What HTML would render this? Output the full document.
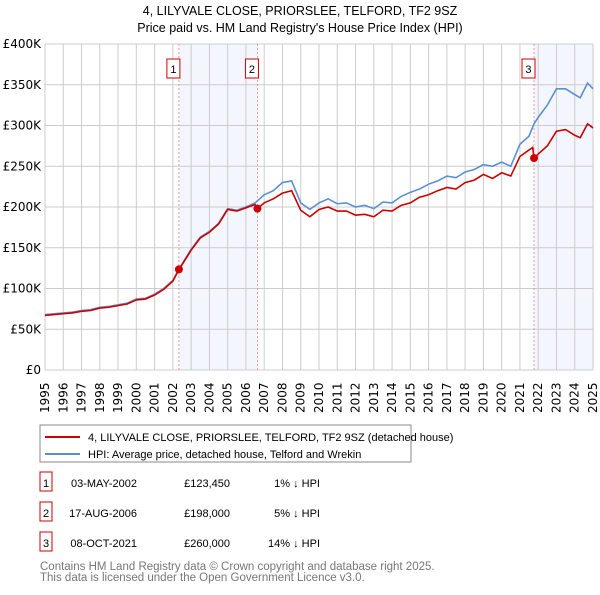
<!DOCTYPE html>
<html><head><meta charset="utf-8"><style>
body{margin:0;width:600px;height:590px;background:#fff;font-family:"Liberation Sans","DejaVu Sans",sans-serif;overflow:hidden}
svg text{font-family:"Liberation Sans","DejaVu Sans",sans-serif}
svg text.tick{font-family:"DejaVu Sans","Liberation Sans",sans-serif}
</style></head><body>
<svg id="c" width="600" height="590" xmlns="http://www.w3.org/2000/svg">
<text x="300" y="15" text-anchor="middle" font-size="12.5">4, LILYVALE CLOSE, PRIORSLEE, TELFORD, TF2 9SZ</text>
<text x="300" y="32" text-anchor="middle" font-size="12.5">Price paid vs. HM Land Registry's House Price Index (HPI)</text>
<g id="plot"></g>
<rect x="40" y="425" width="371" height="37" fill="#fff" stroke="#888"/>
<line x1="45" y1="437" x2="80" y2="437" stroke="#cc0000" stroke-width="2"/>
<text x="88" y="441" font-size="11">4, LILYVALE CLOSE, PRIORSLEE, TELFORD, TF2 9SZ (detached house)</text>
<line x1="45" y1="454" x2="80" y2="454" stroke="#5b8fd4" stroke-width="2"/>
<text x="88" y="458" font-size="11">HPI: Average price, detached house, Telford and Wrekin</text>
<g id="tbl" font-size="11"></g>
<text x="40" y="570" font-size="11.5" fill="#777">Contains HM Land Registry data © Crown copyright and database right 2025.</text>
<text x="40" y="581" font-size="11.5" fill="#777">This data is licensed under the Open Government Licence v3.0.</text>
</svg>
<script>
const hpiYears=[1995,1995.5,1996,1996.5,1997,1997.5,1998,1998.5,1999,1999.5,2000,2000.5,2001,2001.5,2002,2002.33,2002.5,2003,2003.5,2004,2004.5,2005,2005.5,2006,2006.5,2007,2007.5,2008,2008.5,2009,2009.5,2010,2010.5,2011,2011.5,2012,2012.5,2013,2013.5,2014,2014.5,2015,2015.5,2016,2016.5,2017,2017.5,2018,2018.5,2019,2019.5,2020,2020.5,2021,2021.5,2021.77,2022,2022.5,2023,2023.5,2024,2024.3,2024.7,2025];
const hpiValues=[68,69,70,71,73,74,77,78,80,82,87,88,93,100,110,124,130,148,163,170,180,198,196,200,205,215,220,230,232,205,197,205,210,204,205,200,202,198,206,205,213,218,222,228,232,238,236,243,246,252,250,255,250,277,287,302,310,325,345,345,338,334,352,345];
const priceYears=[1995,1995.5,1996,1996.5,1997,1997.5,1998,1998.5,1999,1999.5,2000,2000.5,2001,2001.5,2002,2002.33,2002.5,2003,2003.5,2004,2004.5,2005,2005.5,2006,2006.5,2006.63,2007,2007.5,2008,2008.5,2009,2009.5,2010,2010.5,2011,2011.5,2012,2012.5,2013,2013.5,2014,2014.5,2015,2015.5,2016,2016.5,2017,2017.5,2018,2018.5,2019,2019.5,2020,2020.5,2021,2021.5,2021.7,2021.77,2022,2022.5,2023,2023.5,2024,2024.3,2024.7,2025];
const priceValues=[67,68,69,70,72,73,76,77,79,81,86,87,92,99,109,123,129,147,162,169,179,197,195,199,203,198,205,210,217,220,196,188,197,200,195,195,190,191,188,196,195,202,205,212,215,220,224,222,230,233,240,235,242,238,262,270,273,260,265,275,293,295,288,285,302,297];
const saleYears=[2002.33,2006.63,2021.77];
const saleValues=[123.45,198,260];
const saleLabels=["1","2","3"];
const saleDates=["03-MAY-2002","17-AUG-2006","08-OCT-2021"];
const salePrices=["£123,450","£198,000","£260,000"];
const saleDiffs=["1% ↓ HPI","5% ↓ HPI","14% ↓ HPI"];
const yTicks=[0,50,100,150,200,250,300,350,400];
const yTickLabels=["£0","£50K","£100K","£150K","£200K","£250K","£300K","£350K","£400K"];
const xTicks=[1995,1996,1997,1998,1999,2000,2001,2002,2003,2004,2005,2006,2007,2008,2009,2010,2011,2012,2013,2014,2015,2016,2017,2018,2019,2020,2021,2022,2023,2024,2025];

const NS="http://www.w3.org/2000/svg";
const X0=45,X1=593,Y0=370,Y1=44;
const x=v=>X0+(v-1995)/30*(X1-X0);
const y=v=>Y0-v/400*(Y0-Y1);
const g=document.getElementById('plot');
function mk(t,a,p){const e=document.createElementNS(NS,t);for(const k in a)e.setAttribute(k,a[k]);(p||g).appendChild(e);return e;}
let e;
e=mk('rect',{x:x(saleYears[0]),y:Y1,width:x(saleYears[1])-x(saleYears[0]),height:Y0-Y1,fill:'#f3f6fd'});


e=mk('rect',{x:x(saleYears[2]),y:Y1,width:X1-x(saleYears[2]),height:Y0-Y1,fill:'#f3f6fd'});


yTicks.forEach((t,i)=>{
 e=mk('line',{x1:X0,x2:X1,y1:y(t),y2:y(t),stroke:'#ccc'});
 
 
 e=mk('text',{x:X0-4,y:y(t)+4,'text-anchor':'end','font-size':12,'class':'tick'});
 e.textContent=yTickLabels[i];
 
 
});
xTicks.forEach(t=>{
 e=mk('line',{x1:x(t),x2:x(t),y1:Y1,y2:Y0,stroke:'#ccc'});
 
 
 e=mk('text',{transform:`translate(${x(t)+4},413) rotate(-90)`,'font-size':12,'class':'tick'});
 e.textContent=t;
 
 
});
saleYears.forEach((s,i)=>{
 e=mk('line',{x1:x(s),x2:x(s),y1:Y1,y2:Y0,stroke:'#f08080','stroke-width':0.8,'stroke-dasharray':'2,2'});
 
 
 e=mk('rect',{x:x(s)-12,y:59,width:13,height:19,fill:'#fff',stroke:'#cc0000'});
 
 
 e=mk('text',{x:x(s)-5.5,y:73,'text-anchor':'middle','font-size':11});
 e.textContent=saleLabels[i];
 
 
});
e=mk('polyline',{points:hpiYears.map((v,i)=>x(v)+','+y(hpiValues[i])).join(' '),fill:'none',stroke:'#5b8fd4','stroke-width':1.6});


e=mk('polyline',{points:priceYears.map((v,i)=>x(v)+','+y(priceValues[i])).join(' '),fill:'none',stroke:'#cc0000','stroke-width':1.6});


saleYears.forEach((s,i)=>{
 e=mk('circle',{cx:x(s),cy:y(saleValues[i]),r:4,fill:'#cc0000'});
 
 
});
const tb=document.getElementById('tbl');
saleLabels.forEach((l,i)=>{
 const yy=483+i*30;
 e=mk('rect',{x:40,y:yy-11,width:12,height:19,fill:'#fff',stroke:'#cc0000'},tb);
 
 
 const cells=[[46,'middle',l],[137,'end',saleDates[i]],[230,'end',salePrices[i]],[320,'end',saleDiffs[i]]];
 cells.forEach(c=>{
  e=mk('text',{x:c[0],y:yy+4,'text-anchor':c[1]},tb);
  e.textContent=c[2];
  
  
 });
});
</script>
</body></html>
